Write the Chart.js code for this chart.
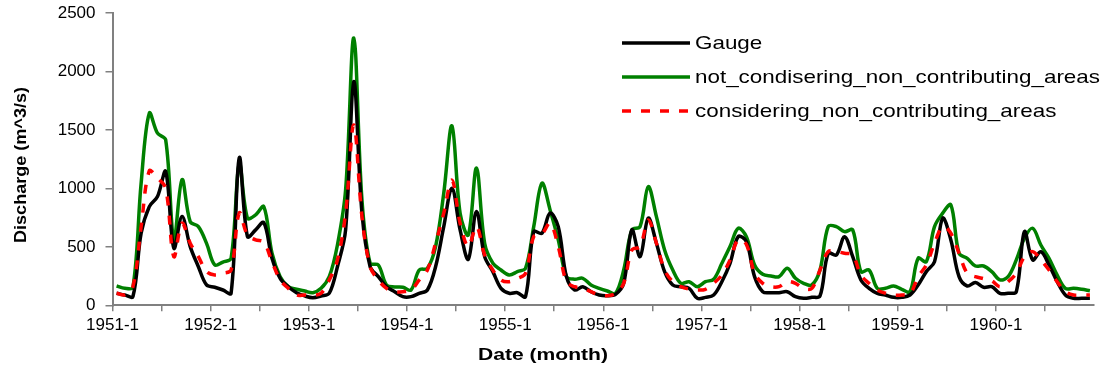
<!DOCTYPE html>
<html>
<head>
<meta charset="utf-8">
<script src="https://cdn.jsdelivr.net/npm/chart.js@4.4.1/dist/chart.umd.min.js"></script>
<style>
  html, body { margin: 0; padding: 0; background: #fff; }
  #wrap { width: 1109px; height: 376px; position: relative; overflow: hidden; }
</style>
</head>
<body>
<div id="wrap"><canvas id="chart" width="1109" height="376"></canvas></div>
<script>
// categorias: meses de 1951-1 a 1960-12
const years = [1951, 1952, 1953, 1954, 1955, 1956, 1957, 1958, 1959, 1960];
const months = years.flatMap(y => Array.from({ length: 12 }, (_, m) => y + '-' + (m + 1)));

const yTicks = [0, 500, 1000, 1500, 2000, 2500];

// vazões (m^3/s)
const gauge = [
  103, 88, 75, 616, 844, 930, 1144, 488, 759, 502, 330, 174,
  154, 131, 103, 1262, 587, 645, 707, 402, 231, 159, 108, 80,
  65, 80, 103, 330, 645, 1914, 788, 330, 245, 159, 116, 74,
  74, 103, 131, 330, 673, 1002, 645, 394, 802, 416, 288, 145,
  103, 108, 74, 630, 616, 788, 673, 245, 131, 159, 116, 88,
  82, 94, 188, 645, 416, 745, 531, 288, 174, 159, 145, 60,
  68, 88, 202, 359, 587, 545, 245, 116, 108, 108, 116, 74,
  60, 68, 80, 445, 431, 587, 416, 217, 145, 103, 88, 68,
  68, 88, 174, 288, 373, 745, 559, 245, 165, 194, 154, 159,
  103, 103, 116, 630, 388, 459, 345, 202, 88, 60, 60, 60
];

const notConsidering = [
  165, 145, 154, 1044, 1643, 1472, 1415, 559, 1075, 716, 673, 530,
  345, 370, 402, 1210, 745, 773, 844, 445, 245, 159, 137, 122,
  108, 145, 245, 516, 987, 2286, 901, 360, 345, 174, 157, 154,
  131, 302, 317, 502, 959, 1535, 788, 602, 1173, 531, 360, 302,
  259, 288, 317, 673, 1044, 816, 559, 245, 223, 231, 174, 145,
  122, 103, 302, 645, 673, 1015, 758, 473, 302, 188, 202, 159,
  202, 223, 359, 502, 659, 587, 345, 265, 251, 245, 317, 231,
  188, 174, 302, 673, 673, 630, 645, 288, 302, 145, 145, 165,
  137, 116, 402, 373, 673, 788, 859, 445, 402, 336, 336, 288,
  217, 245, 388, 574, 659, 516, 402, 259, 145, 145, 137, 125
];

const considering = [
  103, 90, 160, 673, 1150, 1087, 1002, 416, 702, 531, 416, 288,
  260, 274, 302, 790, 600, 560, 540, 373, 217, 145, 88, 88,
  85, 103, 217, 388, 788, 1543, 758, 330, 217, 145, 116, 116,
  130, 217, 302, 531, 788, 1070, 702, 502, 673, 431, 302, 217,
  202, 230, 274, 587, 610, 702, 502, 202, 159, 145, 116, 88,
  82, 103, 188, 473, 502, 730, 531, 302, 202, 159, 138, 131,
  137, 188, 259, 388, 560, 520, 274, 188, 159, 160, 202, 188,
  145, 145, 302, 459, 459, 445, 431, 259, 188, 131, 103, 88,
  88, 97, 245, 345, 531, 673, 616, 445, 274, 245, 228, 210,
  159, 202, 274, 416, 459, 388, 302, 202, 116, 88, 88, 88
];

const FONT = "'Liberation Sans', Arial, sans-serif";

// escreve um texto esticado/encolhido na horizontal até ocupar a largura pedida
function drawFitted(ctx, text, width) {
  const w = ctx.measureText(text).width;
  ctx.save();
  ctx.scale(width / w, 1);
  ctx.fillText(text, 0, 0);
  ctx.restore();
}

// títulos dos eixos e legenda dentro da área do gráfico
const annotations = {
  id: 'annotations',
  afterDraw(chart) {
    const ctx = chart.ctx;
    ctx.save();
    ctx.fillStyle = '#000';
    ctx.textBaseline = 'middle';

    // título do eixo Y
    ctx.font = 'bold 17px ' + FONT;
    ctx.save();
    ctx.translate(21, 165);
    ctx.rotate(-Math.PI / 2);
    ctx.translate(-78, 0);
    drawFitted(ctx, 'Discharge (m^3/s)', 156);
    ctx.restore();

    // título do eixo X
    ctx.save();
    ctx.translate(478, 355);
    drawFitted(ctx, 'Date (month)', 130);
    ctx.restore();

    // legenda
    const x0 = 622, lineLen = 68, y0 = 43, rowH = 34;
    ctx.font = '19px ' + FONT;
    const longest = Math.max(...chart.data.datasets.map(ds => ctx.measureText(ds.label).width));
    const stretch = 405 / longest;
    chart.data.datasets.forEach((ds, i) => {
      const y = y0 + i * rowH;
      ctx.beginPath();
      ctx.strokeStyle = ds.borderColor;
      ctx.lineWidth = ds.borderWidth;
      ctx.setLineDash(ds.borderDash || []);
      ctx.moveTo(x0, y);
      ctx.lineTo(x0 + lineLen, y);
      ctx.stroke();
      ctx.setLineDash([]);
      ctx.save();
      ctx.translate(x0 + lineLen + 5, y + 1);
      ctx.scale(stretch, 1);
      ctx.fillText(ds.label, 0, 0);
      ctx.restore();
    });
    ctx.restore();
  }
};

new Chart(document.getElementById('chart'), {
  type: 'line',
  data: {
    labels: months,
    datasets: [
      {
        label: 'Gauge',
        data: gauge,
        borderColor: '#000000',
        borderWidth: 3.5,
        order: 1
      },
      {
        label: 'not_condisering_non_contributing_areas',
        data: notConsidering,
        borderColor: '#008000',
        borderWidth: 3.5,
        order: 2
      },
      {
        label: 'considering_non_contributing_areas',
        data: considering,
        borderColor: '#ff0000',
        borderWidth: 3.5,
        borderDash: [9, 10],
        order: 0
      }
    ]
  },
  options: {
    responsive: false,
    animation: false,
    devicePixelRatio: 1,
    layout: { padding: { top: 13, right: 15, left: 0, bottom: 0 } },
    elements: {
      point: { radius: 0 },
      line: { tension: 0.35, fill: false }
    },
    plugins: {
      legend: { display: false },
      tooltip: { enabled: false }
    },
    scales: {
      x: {
        type: 'category',
        offset: true,
        afterFit: (s) => { s.height = 70.7; s.paddingLeft = 0; s.paddingRight = 0; },
        border: { display: true, color: '#808080', width: 2 },
        grid: {
          offset: true,
          drawOnChartArea: false,
          drawTicks: true,
          tickLength: 6,
          lineWidth: 1.5,
          color: (c) => (c.index % 6 === 0 ? '#808080' : 'rgba(0,0,0,0)')
        },
        ticks: {
          autoSkip: false,
          maxRotation: 0,
          minRotation: 0,
          padding: 4,
          labelOffset: -4,
          color: '#000',
          font: { family: FONT, size: 17 },
          callback: function (value, index) {
            return index % 12 === 0 ? this.getLabelForValue(value) : '';
          }
        }
      },
      y: {
        min: 0,
        max: 2500,
        afterFit: (s) => { s.width = 112.5; s.paddingTop = 0; s.paddingBottom = 0; },
        afterBuildTicks: (s) => { s.ticks = yTicks.map(v => ({ value: v })); },
        border: { display: true, color: '#808080', width: 2 },
        grid: {
          drawOnChartArea: false,
          drawTicks: true,
          tickLength: 7,
          lineWidth: 1.5,
          color: '#808080'
        },
        ticks: {
          padding: 10,
          color: '#000',
          font: { family: FONT, size: 17 },
          callback: (v) => String(v)
        }
      }
    }
  },
  plugins: [annotations]
});
</script>
</body>
</html>
